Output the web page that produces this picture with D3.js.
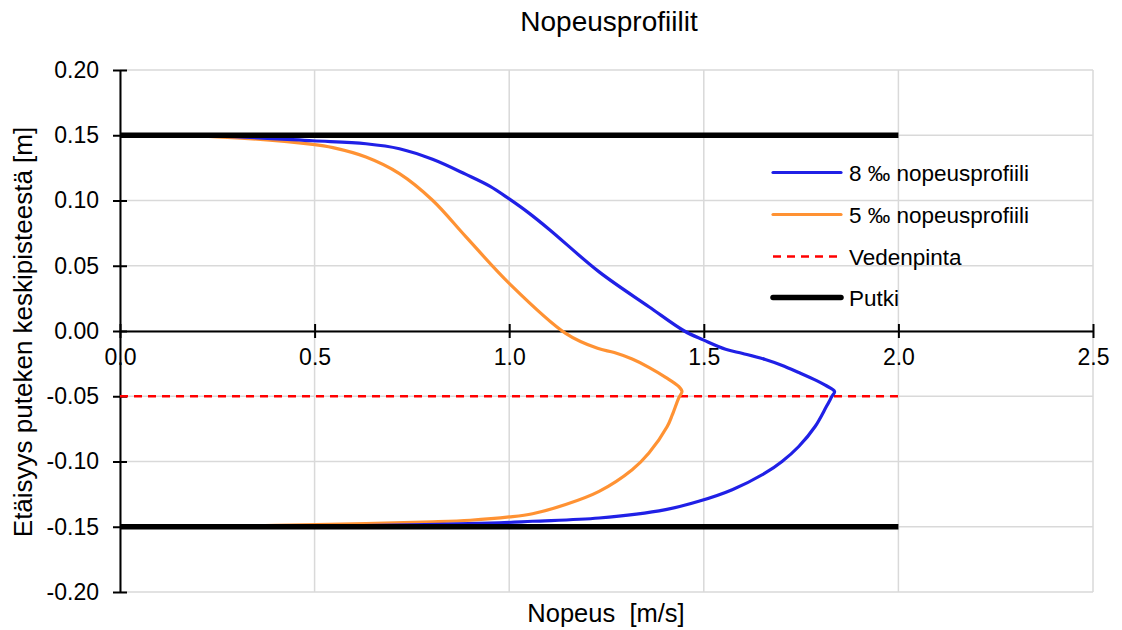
<!DOCTYPE html>
<html>
<head>
<meta charset="utf-8">
<script src="https://cdn.jsdelivr.net/npm/d3@7"></script>
<style>
  body { margin: 0; background: #fff; }
  svg { display: block; font-family: Arial, "Liberation Sans", sans-serif; }
</style>
</head>
<body>
<svg id="chart" width="1122" height="630"></svg>
<script>
// ---- Data ----
const xTicks = [0, 0.5, 1.0, 1.5, 2.0, 2.5];
const yTicks = [-0.20, -0.15, -0.10, -0.05, 0.00, 0.05, 0.10, 0.15, 0.20];

// 8 ‰ velocity profile (v in m/s, y in m)
const v8 = [0, 0.25, 0.495, 0.632, 0.718, 0.803, 0.889, 0.95, 1.0, 1.05, 1.103, 1.231, 1.359, 1.45, 1.50, 1.556, 1.60, 1.658, 1.70, 1.744, 1.79, 1.812, 1.836, 1.829, 1.815, 1.786, 1.744, 1.701, 1.658, 1.573, 1.487, 1.402, 1.231, 1.06, 0.974, 0.75, 0.5, 0.25, 0];
const y8 = [0.15, 0.1493, 0.1458, 0.1435, 0.1397, 0.1316, 0.1200, 0.111, 0.1012, 0.0905, 0.0778, 0.0453, 0.0186, 0.0, -0.007, -0.014, -0.0172, -0.0218, -0.0262, -0.0318, -0.038, -0.0415, -0.0464, -0.0502, -0.0579, -0.0732, -0.0885, -0.100, -0.1088, -0.1216, -0.1305, -0.1369, -0.1433, -0.1458, -0.147, -0.1486, -0.1495, -0.1499, -0.15];

// 5 ‰ velocity profile
const v5 = [0, 0.25, 0.495, 0.547, 0.632, 0.718, 0.803, 0.889, 1.0, 1.145, 1.227, 1.27, 1.316, 1.36, 1.402, 1.436, 1.444, 1.436, 1.419, 1.406, 1.359, 1.316, 1.231, 1.145, 1.06, 1.0, 0.9, 0.803, 0.632, 0.4, 0.2, 0];
const y5 = [0.15, 0.1488, 0.1430, 0.1405, 0.1333, 0.1206, 0.1002, 0.0721, 0.0365, -0.0018, -0.0133, -0.0165, -0.0215, -0.028, -0.0355, -0.0426, -0.0464, -0.051, -0.0643, -0.0732, -0.0935, -0.1063, -0.1229, -0.133, -0.1400, -0.1425, -0.1450, -0.1462, -0.1475, -0.149, -0.1497, -0.15];

// Water surface and pipe walls
const waterV = [0, 2.0];
const waterY = [-0.05, -0.05];
const pipeV = [0, 2.0];
const pipeTopY = [0.15, 0.15];
const pipeBotY = [-0.15, -0.15];

const legendLabels = ["8 \u2030 nopeusprofiili", "5 \u2030 nopeusprofiili", "Vedenpinta", "Putki"];

// ---- Layout ----
const svg = d3.select("#chart");
const L = 120, R = 1093, T = 70, B = 592;
const x = d3.scaleLinear().domain([0, 2.5]).range([L, R]);
const y = d3.scaleLinear().domain([-0.2, 0.2]).range([B, T]);

const grid = svg.append("g");
grid.selectAll("line.v").data(xTicks).join("line")
  .attr("x1", d => x(d)).attr("x2", d => x(d)).attr("y1", T).attr("y2", B)
  .attr("stroke", "#d9d9d9").attr("stroke-width", 1.5);
grid.selectAll("line.h").data(yTicks).join("line")
  .attr("y1", d => y(d)).attr("y2", d => y(d)).attr("x1", L).attr("x2", R)
  .attr("stroke", "#d9d9d9").attr("stroke-width", 1.5);

const zip = (a, b) => a.map((v, i) => [v, b[i]]);
const line = d3.line().x(d => x(d[0])).y(d => y(d[1])).curve(d3.curveCatmullRom.alpha(0.5));
const straight = d3.line().x(d => x(d[0])).y(d => y(d[1]));
const fmt1 = d => d3.format(".1f")(d).replace("\u2212", "-");
const fmt2 = d => d3.format(".2f")(d).replace("\u2212", "-");

// Axes
const xAxis = svg.append("g").attr("transform", `translate(0,${y(0)})`)
  .call(d3.axisBottom(x).tickValues(xTicks).tickFormat(fmt1).tickSizeInner(7).tickSizeOuter(0));
xAxis.select(".domain").attr("stroke", "#000").attr("stroke-width", 2);
xAxis.selectAll(".tick line").attr("stroke", "#000").attr("stroke-width", 2).attr("y1", -7);
xAxis.selectAll(".tick text").attr("font-size", 23).attr("fill", "#000").attr("dy", "0.95em").attr("y", 12);

const yAxis = svg.append("g").attr("transform", `translate(${L},0)`)
  .call(d3.axisLeft(y).tickValues(yTicks).tickFormat(fmt2).tickSizeInner(7).tickSizeOuter(0));
yAxis.select(".domain").attr("stroke", "#000").attr("stroke-width", 2);
yAxis.selectAll(".tick line").attr("stroke", "#000").attr("stroke-width", 2).attr("x1", 7);
yAxis.selectAll(".tick text").attr("font-size", 23).attr("fill", "#000").attr("x", -21);

// Series
svg.append("path").attr("d", straight(zip(waterV, waterY)))
  .attr("fill", "none").attr("stroke", "#ff0000").attr("stroke-width", 2.5).attr("stroke-dasharray", "8,6");
svg.append("path").attr("d", line(zip(v5, y5)))
  .attr("fill", "none").attr("stroke", "#ff9233").attr("stroke-width", 3.2);
svg.append("path").attr("d", line(zip(v8, y8)))
  .attr("fill", "none").attr("stroke", "#2020e6").attr("stroke-width", 3.2);
[pipeTopY, pipeBotY].forEach(py => {
  svg.append("path").attr("d", straight(zip(pipeV, py)))
    .attr("fill", "none").attr("stroke", "#000").attr("stroke-width", 5.5);
});

// Titles
svg.append("text").attr("x", 609).attr("y", 31).attr("text-anchor", "middle")
  .attr("font-size", 28).attr("fill", "#000").text("Nopeusprofiilit");
svg.append("text").attr("x", 606).attr("y", 622).attr("text-anchor", "middle")
  .attr("font-size", 25.5).attr("fill", "#000").attr("xml:space", "preserve").style("white-space", "pre").text("Nopeus  [m/s]");
svg.append("text").attr("transform", "translate(32,332) rotate(-90)").attr("text-anchor", "middle")
  .attr("font-size", 26).attr("fill", "#000").text("Etäisyys puteken keskipisteestä [m]");

// Legend
const legY = [172.5, 214.5, 256.5, 297.5];
const legStyles = [
  {c: "#2020e6", w: 3.2, dash: null},
  {c: "#ff9233", w: 3.2, dash: null},
  {c: "#ff0000", w: 2.5, dash: "8,6"},
  {c: "#000", w: 5.5, dash: null}
];
const leg = svg.append("g");
legendLabels.forEach((lab, i) => {
  leg.append("line").attr("x1", 773).attr("x2", 841).attr("y1", legY[i]).attr("y2", legY[i])
    .attr("stroke", legStyles[i].c).attr("stroke-width", legStyles[i].w)
    .attr("stroke-dasharray", legStyles[i].dash).attr("stroke-linecap", legStyles[i].dash ? "butt" : "round");
  leg.append("text").attr("x", 849).attr("y", legY[i]).attr("dy", "0.36em")
    .attr("font-size", 22.5).attr("fill", "#000").text(lab);
});
</script>
</body>
</html>
